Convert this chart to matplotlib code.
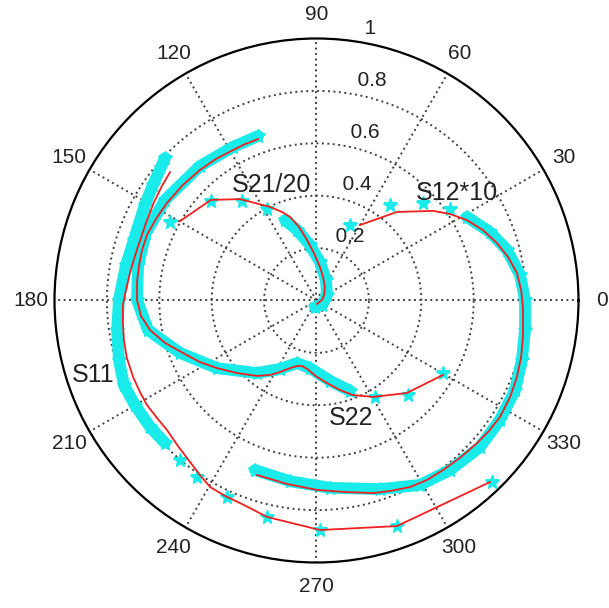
import numpy as np
import matplotlib.pyplot as plt

plt.rcParams['font.family'] = ['Liberation Sans', 'DejaVu Sans']

# S-parameters as (real, imag); measured = swept data, model = fitted response
# S11
s11_meas_re = [-0.578, -0.624, -0.655, -0.697, -0.727, -0.754, -0.761, -0.754, -0.735, -0.693, -0.635, -0.578]
s11_meas_im = [0.544, 0.441, 0.365, 0.231, 0.135, 0.002, -0.113, -0.227, -0.323, -0.399, -0.483, -0.544]
s11_pts_re = [-0.521, -0.456, -0.342, -0.189, 0.013, 0.307, 0.670]
s11_pts_im = [-0.609, -0.674, -0.750, -0.826, -0.876, -0.861, -0.693]
s11_fit_re = [-0.559, -0.590, -0.620, -0.647, -0.670, -0.693, -0.712, -0.727, -0.739, -0.739,
              -0.735, -0.724, -0.700, -0.674, -0.647, -0.609, -0.571, -0.529, -0.483, -0.445,
              -0.406, -0.349, -0.292, -0.239, -0.189, 0.013, 0.307, 0.662]
s11_fit_im = [0.490, 0.437, 0.376, 0.307, 0.239, 0.170, 0.105, 0.040, -0.017, -0.082,
              -0.151, -0.219, -0.292, -0.349, -0.399, -0.448, -0.494, -0.555, -0.616, -0.666,
              -0.712, -0.746, -0.773, -0.800, -0.826, -0.876, -0.861, -0.693]

# S22
s22_meas_re = [-0.223, -0.319, -0.445, -0.578, -0.651, -0.681, -0.685, -0.643, -0.521, -0.380, -0.227, -0.139, -0.074, -0.025, 0.052, 0.128]
s22_meas_im = [0.628, 0.586, 0.513, 0.384, 0.258, 0.135, 0.002, -0.113, -0.200, -0.258, -0.277, -0.261, -0.239, -0.258, -0.307, -0.345]
s22_pts_re = [0.223, 0.349, 0.483]
s22_pts_im = [-0.368, -0.361, -0.277]
s22_fit_re = [-0.223, -0.273, -0.319, -0.384, -0.445, -0.510, -0.571, -0.613, -0.647, -0.666,
              -0.677, -0.685, -0.685, -0.670, -0.635, -0.578, -0.510, -0.445, -0.380, -0.303,
              -0.227, -0.177, -0.139, -0.101, -0.074, -0.055, -0.036, 0.002, 0.040, 0.090,
              0.139, 0.216, 0.345, 0.483]
s22_fit_im = [0.616, 0.597, 0.574, 0.540, 0.498, 0.441, 0.372, 0.311, 0.250, 0.192,
              0.135, 0.071, 0.002, -0.059, -0.113, -0.162, -0.200, -0.235, -0.258, -0.277,
              -0.288, -0.284, -0.273, -0.258, -0.250, -0.250, -0.261, -0.292, -0.315, -0.342,
              -0.361, -0.368, -0.353, -0.284]

# S21 scaled by 1/20
s21_meas_re = [-0.120, -0.074, -0.025, 0.013, 0.036, 0.040, 0.021, -0.006]
s21_meas_im = [0.307, 0.269, 0.212, 0.147, 0.078, 0.021, -0.017, -0.025]
s21_pts_re = [-0.559, -0.403, -0.284, -0.189]
s21_pts_im = [0.300, 0.380, 0.380, 0.349]
s21_fit_re = [-0.521, -0.403, -0.292, -0.177, -0.132, -0.101, -0.067, -0.036, -0.010, 0.013,
              0.025, 0.032, 0.029, 0.021, 0.002]
s21_fit_im = [0.303, 0.384, 0.387, 0.357, 0.338, 0.319, 0.281, 0.231, 0.181, 0.128,
              0.090, 0.052, 0.021, 0.002, -0.013]

# S12 scaled by 10
s12_meas_re = [0.574, 0.662, 0.727, 0.777, 0.796, 0.796, 0.784, 0.758, 0.700, 0.624, 0.510, 0.395, 0.242, 0.052, -0.101, -0.235]
s12_meas_im = [0.319, 0.261, 0.193, 0.097, 0.002, -0.113, -0.227, -0.342, -0.456, -0.559, -0.647, -0.704, -0.720, -0.715, -0.690, -0.647]
s12_pts_re = [0.128, 0.281, 0.406, 0.510]
s12_pts_im = [0.288, 0.365, 0.372, 0.349]
s12_fit_re = [0.166, 0.307, 0.445, 0.510, 0.574, 0.635, 0.689, 0.731, 0.765, 0.781,
              0.788, 0.788, 0.788, 0.781, 0.765, 0.739, 0.700, 0.658, 0.613, 0.552,
              0.483, 0.422, 0.357, 0.281, 0.216, 0.109, 0.002, -0.113, -0.227]
s12_fit_im = [0.288, 0.338, 0.342, 0.330, 0.307, 0.269, 0.219, 0.166, 0.105, 0.040,
              -0.025, -0.082, -0.139, -0.216, -0.292, -0.368, -0.445, -0.498, -0.544, -0.597,
              -0.647, -0.685, -0.712, -0.727, -0.735, -0.731, -0.723, -0.700, -0.666]

r_ticks = [0.2, 0.4, 0.6, 0.8, 1.0]
r_labels = ['0.2', '0.4', '0.6', '0.8', '1']
theta_ticks = list(range(0, 360, 30))

curve_labels = ['S21/20', 'S12*10', 'S11', 'S22']
label_pos = [(0.415, 0.720), (0.768, 0.705), (0.073, 0.358), (0.566, 0.276)]

CYAN = '#19eaea'
RED = '#f02020'
GRID = '0.25'


def polar(re, im):
    z = np.array(re) + 1j * np.array(im)
    return np.angle(z), np.abs(z)


fig = plt.figure(figsize=(6.09, 6.08), dpi=100)
ax = fig.add_axes([54.5 / 609, (608 - 562.5) / 608, 524 / 609, 524 / 608], projection='polar')
ax.set_ylim(0, 1)
ax.set_xticks([])
ax.set_yticks([])
ax.grid(False)
ax.spines['polar'].set_linewidth(1.6)
ax.spines['polar'].set_color('black')

# dotted grid
t = np.linspace(0, 2 * np.pi, 400)
for r in r_ticks[:-1]:
    ax.plot(t, np.full_like(t, r), color=GRID, lw=1.4, dashes=(1, 1.8))
for a in theta_ticks:
    ax.plot([np.radians(a)] * 2, [0, 1], color=GRID, lw=1.4, dashes=(1, 1.8))

# radial labels at 82 degrees like MATLAB polar
for r, lab in zip(r_ticks, r_labels):
    ax.text(np.radians(82), r + 0.01, '  ' + lab, ha='left', va='bottom',
            fontsize=15, color='#222222')
for a in theta_ticks:
    ax.text(np.radians(a), 1.09, str(a), ha='center', va='center',
            fontsize=15, color='#222222')

series = [
    (s11_meas_re, s11_meas_im, s11_pts_re, s11_pts_im, s11_fit_re, s11_fit_im),
    (s22_meas_re, s22_meas_im, s22_pts_re, s22_pts_im, s22_fit_re, s22_fit_im),
    (s21_meas_re, s21_meas_im, s21_pts_re, s21_pts_im, s21_fit_re, s21_fit_im),
    (s12_meas_re, s12_meas_im, s12_pts_re, s12_pts_im, s12_fit_re, s12_fit_im),
]
for mre, mim, pre, pim, fre, fim in series:
    th, rr = polar(mre, mim)
    ax.plot(th, rr, color=CYAN, lw=8.5, solid_capstyle='round', solid_joinstyle='round')
    ax.plot(th, rr, ls='none', marker='*', ms=10, color=CYAN)
    th, rr = polar(pre, pim)
    ax.plot(th, rr, ls='none', marker='*', ms=10, color=CYAN)
for mre, mim, pre, pim, fre, fim in series:
    th, rr = polar(fre, fim)
    ax.plot(th, rr, color=RED, lw=1.3)

for lab, (x, y) in zip(curve_labels, label_pos):
    ax.text(x, y, lab, transform=ax.transAxes, ha='center', va='center',
            fontsize=18, color='#222222')

fig.savefig('out.png', dpi=100)
